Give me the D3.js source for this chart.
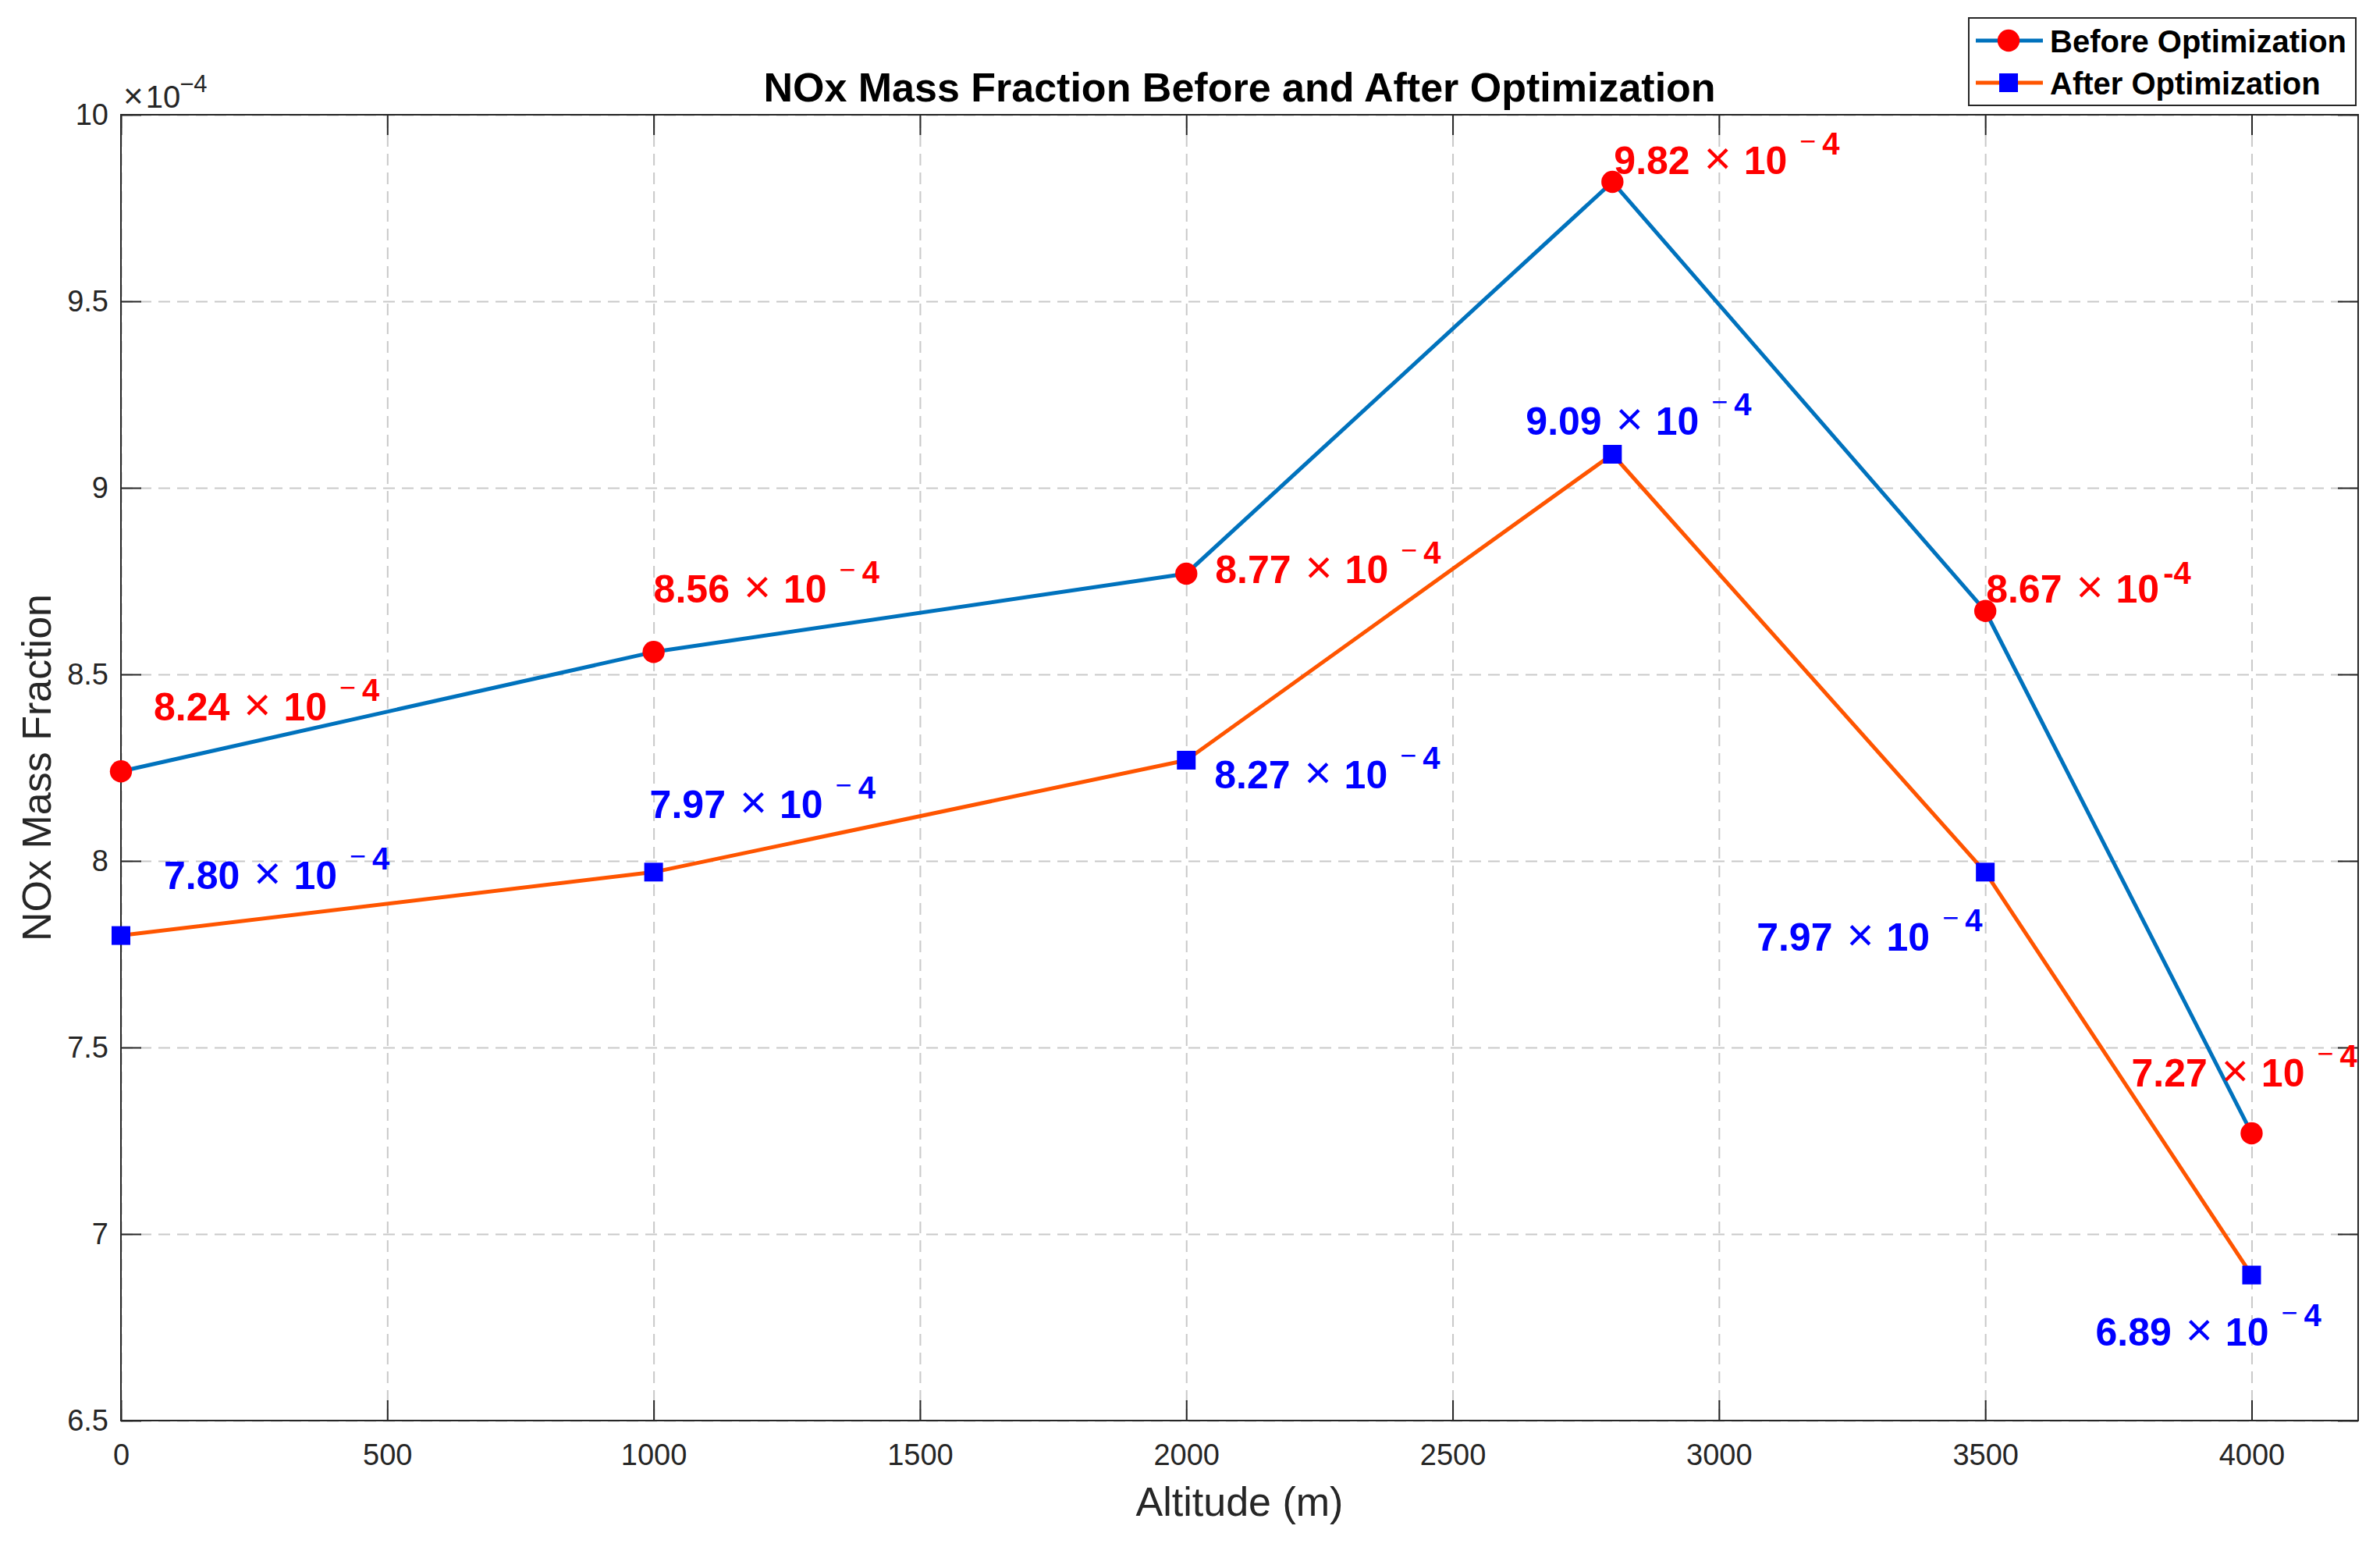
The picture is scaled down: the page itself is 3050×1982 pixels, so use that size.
<!DOCTYPE html>
<html>
<head>
<meta charset="utf-8">
<script src="https://cdn.jsdelivr.net/npm/d3@7"></script>
<style>
  html, body { margin: 0; padding: 0; background: #ffffff; }
  svg { display: block; }
  text { font-family: "Liberation Sans", Arial, Helvetica, sans-serif; }
</style>
</head>
<body>
<svg id="chart" width="3050" height="1982"></svg>
<script>
// ---------------- data ----------------
const altitudes = [0, 1000, 2000, 2800, 3500, 4000];
const beforeValues = [8.24, 8.56, 8.77, 9.82, 8.67, 7.27];
const afterValues = [7.80, 7.97, 8.27, 9.09, 7.97, 6.89];
const seriesNames = ["Before Optimization", "After Optimization"];
const xTickValues = [0, 500, 1000, 1500, 2000, 2500, 3000, 3500, 4000];
const xTickLabels = ["0", "500", "1000", "1500", "2000", "2500", "3000", "3500", "4000"];
const yTickValues = [6.5, 7, 7.5, 8, 8.5, 9, 9.5, 10];
const yTickLabels = ["6.5", "7", "7.5", "8", "8.5", "9", "9.5", "10"];
const xDomain = [0, 4200];
const yDomain = [6.5, 10];
const titleText = "NOx Mass Fraction Before and After Optimization";
const xLabelText = "Altitude (m)";
const yLabelText = "NOx Mass Fraction";
// annotation placement (pixel offsets from each point) and style
const beforeLabelOffsets = [[42, -65], [0, -63], [37, 12], [2, -10], [1, -11], [-154, -60]];
const afterLabelOffsets = [[55, -60], [-5, -69], [36, 36], [-111, -25], [-293, 101], [-200, 90]];
const beforeLabelStyles = ["spaced", "spaced", "spaced", "spaced", "compact", "spaced"];
const afterLabelStyles = ["spaced", "spaced", "spaced", "spaced", "spaced", "spaced"];

// ---------------- layout ----------------
const L = 155, T = 147, R = 3022, B = 1820;
const axisColor = "#262626";
const blueLine = "#0072BD", orangeLine = "#FF5500";
const redMark = "#FF0000", blueMark = "#0000FF";
const lineW = 5;

const svg = d3.select("#chart");
svg.append("rect").attr("width", 3050).attr("height", 1982).attr("fill", "#ffffff");

const x = d3.scaleLinear().domain(xDomain).range([L, R]);
const y = d3.scaleLinear().domain(yDomain).range([B, T]);

// grid
const gridX = svg.append("g").attr("transform", `translate(0,${B})`)
  .call(d3.axisBottom(x).tickValues(xTickValues).tickFormat("").tickSizeInner(-(B - T)).tickSizeOuter(0));
const gridY = svg.append("g").attr("transform", `translate(${L},0)`)
  .call(d3.axisLeft(y).tickValues(yTickValues).tickFormat("").tickSizeInner(-(R - L)).tickSizeOuter(0));
[gridX, gridY].forEach(g => {
  g.select(".domain").remove();
  g.selectAll(".tick line").attr("stroke", "#c9c9c9").attr("stroke-width", 2).attr("stroke-dasharray", "15,9");
});

// axes with inward ticks
const tickLen = 26;
const fontTick = 38;
const axB = svg.append("g").attr("transform", `translate(0,${B})`)
  .call(d3.axisBottom(x).tickValues(xTickValues).tickFormat((d, i) => xTickLabels[i]).tickSizeInner(-tickLen).tickSizeOuter(0).tickPadding(30));
const axT = svg.append("g").attr("transform", `translate(0,${T})`)
  .call(d3.axisTop(x).tickValues(xTickValues).tickFormat("").tickSizeInner(-tickLen).tickSizeOuter(0));
const axL = svg.append("g").attr("transform", `translate(${L},0)`)
  .call(d3.axisLeft(y).tickValues(yTickValues).tickFormat((d, i) => yTickLabels[i]).tickSizeInner(-tickLen).tickSizeOuter(0).tickPadding(16));
const axR = svg.append("g").attr("transform", `translate(${R},0)`)
  .call(d3.axisRight(y).tickValues(yTickValues).tickFormat("").tickSizeInner(-tickLen).tickSizeOuter(0));
[axB, axT, axL, axR].forEach(g => {
  g.select(".domain").remove();
  g.selectAll(".tick line").attr("stroke", axisColor).attr("stroke-width", 2);
  g.selectAll(".tick text").attr("fill", axisColor).attr("font-size", fontTick)
    .style("font-family", "'Liberation Sans', Arial, Helvetica, sans-serif");
});
axL.selectAll(".tick text").attr("dy", "0.34em");

// box
svg.append("rect").attr("x", L).attr("y", T).attr("width", R - L).attr("height", B - T)
  .attr("fill", "none").attr("stroke", axisColor).attr("stroke-width", 2);

// exponent label
const expG = svg.append("g").attr("fill", axisColor);
let ex = L + 3;
const exTimes = expG.append("text").attr("x", ex).attr("y", 138).attr("font-size", 44).text("×");
ex += exTimes.node().getComputedTextLength() + 3;
const exTen = expG.append("text").attr("x", ex).attr("y", 138).attr("font-size", 40).text("10");
ex += exTen.node().getComputedTextLength() - 1;
expG.append("text").attr("x", ex).attr("y", 118).attr("font-size", 31).text("−4");

// lines
const line = d3.line().x((d, i) => x(altitudes[i])).y(d => y(d));
svg.append("path").datum(beforeValues).attr("d", line).attr("fill", "none")
  .attr("stroke", blueLine).attr("stroke-width", lineW).attr("stroke-linejoin", "round");
svg.append("path").datum(afterValues).attr("d", line).attr("fill", "none")
  .attr("stroke", orangeLine).attr("stroke-width", lineW).attr("stroke-linejoin", "round");

// markers
const rMark = 14.2;
const sq = 24;
svg.append("g").selectAll("circle").data(beforeValues).join("circle")
  .attr("cx", (d, i) => x(altitudes[i])).attr("cy", d => y(d)).attr("r", rMark).attr("fill", redMark);
svg.append("g").selectAll("rect").data(afterValues).join("rect")
  .attr("x", (d, i) => x(altitudes[i]) - sq / 2).attr("y", d => y(d) - sq / 2)
  .attr("width", sq).attr("height", sq).attr("fill", blueMark);

// annotations
function drawLabel(px, py, value, color, style) {
  const g = svg.append("g").attr("transform", `translate(${px},${py})`).attr("fill", color);
  let cx = 0;
  const num = g.append("text").attr("x", cx).attr("font-size", 50).attr("font-weight", "bold").text(value.toFixed(2));
  cx += num.node().getComputedTextLength() + 18;
  const tm = g.append("text").attr("x", cx).attr("font-size", 60).text("×");
  cx += tm.node().getComputedTextLength() + 16;
  const ten = g.append("text").attr("x", cx).attr("font-size", 50).attr("font-weight", "bold").text("10");
  cx += ten.node().getComputedTextLength();
  if (style === "compact") {
    cx += 5;
    g.append("text").attr("x", cx).attr("y", -24).attr("font-size", 40).attr("font-weight", "bold").text("-4");
  } else {
    cx += 16;
    const mn = g.append("text").attr("x", cx).attr("y", -30).attr("font-size", 36).text("−");
    cx += mn.node().getComputedTextLength() + 8;
    g.append("text").attr("x", cx).attr("y", -25).attr("font-size", 40).attr("font-weight", "bold").text("4");
  }
}
beforeValues.forEach((v, i) => drawLabel(x(altitudes[i]) + beforeLabelOffsets[i][0], y(v) + beforeLabelOffsets[i][1], v, redMark, beforeLabelStyles[i]));
afterValues.forEach((v, i) => drawLabel(x(altitudes[i]) + afterLabelOffsets[i][0], y(v) + afterLabelOffsets[i][1], v, blueMark, afterLabelStyles[i]));

// title and axis labels
svg.append("text").attr("x", (L + R) / 2).attr("y", 130).attr("text-anchor", "middle")
  .attr("font-size", 52).attr("font-weight", "bold").attr("fill", "#000000").text(titleText);
svg.append("text").attr("x", (L + R) / 2).attr("y", 1942).attr("text-anchor", "middle")
  .attr("font-size", 52).attr("fill", axisColor).text(xLabelText);
svg.append("text").attr("transform", `translate(65,${(T + B) / 2}) rotate(-90)`).attr("text-anchor", "middle")
  .attr("font-size", 52).attr("fill", axisColor).text(yLabelText);

// legend
const lg = svg.append("g");
lg.append("rect").attr("x", 2523).attr("y", 23).attr("width", 496).attr("height", 112)
  .attr("fill", "#ffffff").attr("stroke", axisColor).attr("stroke-width", 2);
const rows = [52, 106];
const legendColors = [blueLine, orangeLine];
rows.forEach((ry, i) => {
  lg.append("line").attr("x1", 2532).attr("x2", 2618).attr("y1", ry).attr("y2", ry)
    .attr("stroke", legendColors[i]).attr("stroke-width", lineW);
  if (i === 0) {
    lg.append("circle").attr("cx", 2574).attr("cy", ry).attr("r", rMark).attr("fill", redMark);
  } else {
    lg.append("rect").attr("x", 2574 - sq / 2).attr("y", ry - sq / 2).attr("width", sq).attr("height", sq).attr("fill", blueMark);
  }
  lg.append("text").attr("x", 2627).attr("y", ry + 15).attr("font-size", 40).attr("font-weight", "bold")
    .attr("fill", "#000000").text(seriesNames[i]);
});
</script>
</body>
</html>
